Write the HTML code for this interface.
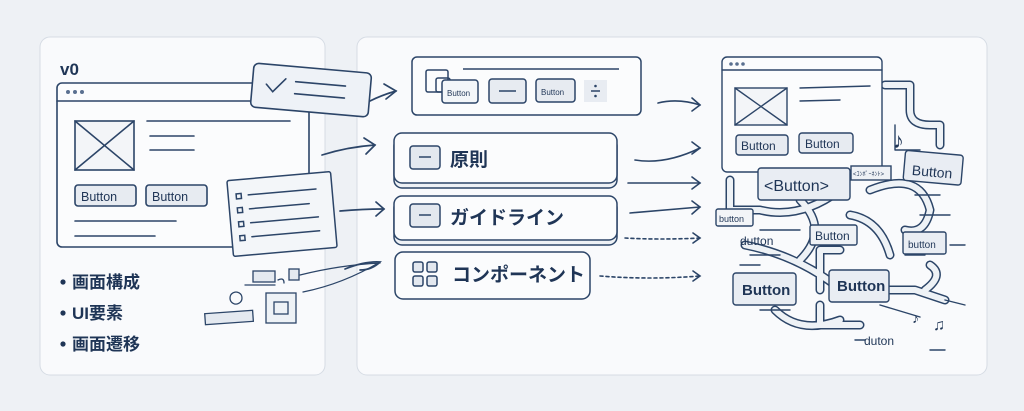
<!DOCTYPE html>
<html><head><meta charset="utf-8"><style>
html,body{margin:0;padding:0;background:#eef1f5;}
svg{display:block;}
text{font-family:"Liberation Sans","Noto Sans CJK JP",sans-serif;fill:#1f3556;}
</style></head><body>
<svg width="1024" height="411" viewBox="0 0 1024 411" xmlns="http://www.w3.org/2000/svg">
<rect width="1024" height="411" fill="#eef1f5"/>
<rect x="40" y="37" width="285" height="338" rx="10" fill="#f9fafc" stroke="#d6dce4"/>
<rect x="357" y="37" width="630" height="338" rx="10" fill="#f9fafc" stroke="#d6dce4"/>
<g fill="none" stroke="#2c4568" stroke-width="1.6" stroke-linecap="round">
<rect x="57" y="83" width="252" height="164" rx="5" fill="#fbfcfd"/>
<line x1="57" y1="101" x2="300" y2="101"/>
<rect x="75" y="121" width="59" height="49" fill="#f3f5f8"/>
<line x1="75" y1="121" x2="134" y2="170"/><line x1="134" y1="121" x2="75" y2="170"/>
<line x1="147" y1="121" x2="290" y2="121"/><line x1="150" y1="136" x2="194" y2="136"/><line x1="150" y1="150" x2="194" y2="150"/>
<rect x="75" y="185" width="61" height="21" rx="3" fill="#e7ebf1"/>
<rect x="146" y="185" width="61" height="21" rx="3" fill="#e7ebf1"/>
<line x1="75" y1="221" x2="176" y2="221"/><line x1="75" y1="236" x2="155" y2="236"/>
</g>
<g fill="#5a7090"><circle cx="68" cy="92" r="2"/><circle cx="75" cy="92" r="2"/><circle cx="82" cy="92" r="2"/></g>
<text x="60" y="75" font-size="17" font-weight="bold">v0</text>
<text x="81" y="201" font-size="12.5">Button</text>
<text x="152" y="201" font-size="12.5">Button</text>
<g transform="rotate(5 310 90)" stroke="#2c4568" stroke-width="1.6" fill="none" stroke-linecap="round">
<rect x="252" y="68" width="118" height="44" rx="5" fill="#eef2f7"/>
<path d="M266 88 l7 7 l12 -14"/>
<line x1="295" y1="83" x2="345" y2="83"/><line x1="295" y1="95" x2="345" y2="95"/>
</g>
<g transform="rotate(-5 282 214)" stroke="#2c4568" stroke-width="1.5" fill="none" stroke-linecap="round">
<rect x="230" y="176" width="104" height="76" rx="2" fill="#f3f6f9"/>
<rect x="238" y="190" width="5" height="5"/><line x1="250" y1="192" x2="318" y2="192"/>
<rect x="238" y="204" width="5" height="5"/><line x1="250" y1="206" x2="310" y2="206"/>
<rect x="238" y="218" width="5" height="5"/><line x1="250" y1="220" x2="318" y2="220"/>
<rect x="238" y="232" width="5" height="5"/><line x1="250" y1="234" x2="318" y2="234"/>
</g>
<g stroke="#2c4568" stroke-width="1.3" fill="#e4e9f0" stroke-linecap="round">
<rect x="253" y="271" width="22" height="11"/><rect x="289" y="269" width="10" height="11"/>
<rect x="266" y="293" width="30" height="30" fill="#eef2f6"/><rect x="274" y="302" width="14" height="12" fill="none"/>
<rect x="205" y="312" width="48" height="11" transform="rotate(-4 229 317)"/>
<path d="M245 285 h30 M278 280 q6 -3 6 3 M230 298 a6 6 0 1 1 0 0.1" fill="none"/>
<path d="M300 275 q40 -10 80 -12 M303 292 q40 -8 77 -30" fill="none"/>
</g>
<circle cx="63" cy="282" r="2.6" fill="#1f3556"/><text x="72" y="288" font-size="17" font-weight="bold">画面構成</text>
<circle cx="63" cy="313" r="2.6" fill="#1f3556"/><text x="72" y="319" font-size="17" font-weight="bold">UI要素</text>
<circle cx="63" cy="344" r="2.6" fill="#1f3556"/><text x="72" y="350" font-size="17" font-weight="bold">画面遷移</text>
<g stroke="#2c4568" stroke-width="1.7" fill="none" stroke-linecap="round">
<path d="M370 101 q12 -6 26 -10"/><path d="M384 84 l12 7 l-10 8"/>
<path d="M322 155 q25 -8 53 -10"/><path d="M364 138 l11 7 l-9 9"/>
<path d="M340 211 q25 -2 44 -2"/><path d="M376 202 l8 7 l-8 7"/>
<path d="M345 269 q20 -8 35 -7 q-8 8 -20 8"/>
</g>
<g stroke="#2c4568" stroke-width="1.5" fill="none">
<rect x="412" y="57" width="229" height="58" rx="5" fill="#fbfcfd"/>
<line x1="463" y1="69" x2="619" y2="69"/>
<rect x="426" y="70" width="22" height="22" rx="2"/><rect x="436" y="78" width="14" height="14" rx="2"/>
<rect x="442" y="80" width="36" height="23" rx="3" fill="#f3f6f9"/>
<rect x="489" y="79" width="37" height="24" rx="3" fill="#e7ebf1"/><line x1="499" y1="91" x2="516" y2="91"/>
<rect x="536" y="79" width="39" height="23" rx="3" fill="#e7ebf1"/>
<rect x="584" y="80" width="23" height="22" fill="#e8ecf2" stroke="none"/>
<line x1="591" y1="91" x2="600" y2="91"/>
<rect x="394" y="138" width="223" height="50" rx="8" fill="#eef1f5"/>
<rect x="394" y="133" width="223" height="50" rx="8" fill="#fbfcfd"/>
<rect x="410" y="146" width="30" height="23" rx="3" fill="#e3e8ef"/><line x1="419" y1="157" x2="431" y2="157"/>
<rect x="394" y="200" width="223" height="45" rx="8" fill="#eef1f5"/>
<rect x="394" y="196" width="223" height="44" rx="8" fill="#fbfcfd"/>
<rect x="410" y="204" width="30" height="23" rx="3" fill="#e3e8ef"/><line x1="419" y1="215" x2="431" y2="215"/>
<rect x="395" y="252" width="195" height="47" rx="8" fill="#fbfcfd"/>
<rect x="413" y="262" width="10" height="10" rx="2" fill="#e3e8ef"/><rect x="427" y="262" width="10" height="10" rx="2" fill="#e3e8ef"/>
<rect x="413" y="276" width="10" height="10" rx="2" fill="#e3e8ef"/><rect x="427" y="276" width="10" height="10" rx="2" fill="#e3e8ef"/>
</g>
<g fill="#2c4568"><circle cx="595.5" cy="86" r="1.3"/><circle cx="595.5" cy="96" r="1.3"/></g>
<text x="447" y="96" font-size="8">Button</text>
<text x="541" y="95" font-size="8">Button</text>
<text x="450" y="166" font-size="19" font-weight="bold">原則</text>
<text x="450" y="224" font-size="19" font-weight="bold">ガイドライン</text>
<text x="452" y="281" font-size="19" font-weight="bold">コンポーネント</text>
<g stroke="#2c4568" stroke-width="1.6" fill="none" stroke-linecap="round">
<path d="M658 103 q20 -5 42 2"/><path d="M692 98 l8 7 l-8 6"/>
<path d="M635 160 q30 5 65 -12"/><path d="M692 142 l8 6 l-8 6"/>
<path d="M628 183 h72"/><path d="M692 177 l8 6 l-8 6"/>
<path d="M630 213 l70 -6"/><path d="M692 201 l8 6 l-8 7"/>
<path d="M625 238 q35 2 75 0" stroke-dasharray="3 3"/><path d="M693 233 l7 5 l-7 5"/>
<path d="M600 276 q50 4 100 0" stroke-dasharray="3 3"/><path d="M693 271 l7 5 l-7 5"/>
</g>
<!-- right cluster pipes -->
<g fill="none" stroke-linecap="round" stroke-linejoin="round">
<g stroke="#2c4568" stroke-width="9">
<path d="M885 85 h25 v25 q0 15 20 15 h10 v20"/>
<path d="M870 190 q50 -20 60 20 q-5 25 -25 20"/>
<path d="M730 180 v30 h30 q40 10 80 -20"/>
<path d="M800 200 q30 30 0 60"/>
<path d="M745 245 q50 10 90 40"/>
<path d="M850 215 q30 5 40 40"/>
<path d="M840 250 h-20 v40"/>
<path d="M870 290 h45 l30 10"/>
<path d="M820 305 v20 h40"/>
<path d="M840 320 q-40 15 -65 -10"/>
<path d="M930 265 q15 10 -5 25"/>
</g>
<g stroke="#eef2f6" stroke-width="6">
<path d="M885 85 h25 v25 q0 15 20 15 h10 v20"/>
<path d="M870 190 q50 -20 60 20 q-5 25 -25 20"/>
<path d="M730 180 v30 h30 q40 10 80 -20"/>
<path d="M800 200 q30 30 0 60"/>
<path d="M745 245 q50 10 90 40"/>
<path d="M850 215 q30 5 40 40"/>
<path d="M840 250 h-20 v40"/>
<path d="M870 290 h45 l30 10"/>
<path d="M820 305 v20 h40"/>
<path d="M840 320 q-40 15 -65 -10"/>
<path d="M930 265 q15 10 -5 25"/>
</g>
<g stroke="#2c4568" stroke-width="1.4">
<path d="M895 125 v25 h25 M920 215 h30 M915 195 h25 M760 230 h40 M740 265 h20 M750 255 h30 M950 245 h15 M905 255 h20 M760 310 h30 M945 300 l20 5 M880 305 l40 12 M930 350 h15 M865 340 h-10"/>
</g>
</g>
<g stroke="#2c4568" stroke-width="1.4" fill="none" stroke-linecap="round">
<rect x="722" y="57" width="160" height="115" rx="5" fill="#fbfcfd"/>
<line x1="722" y1="70" x2="882" y2="70"/>
<rect x="735" y="88" width="52" height="37" fill="#f3f5f8"/><line x1="735" y1="88" x2="787" y2="125"/><line x1="787" y1="88" x2="735" y2="125"/>
<line x1="800" y1="88" x2="870" y2="86"/><line x1="800" y1="101" x2="840" y2="100"/>
<rect x="736" y="135" width="52" height="20" rx="3" fill="#e7ebf1"/>
<rect x="799" y="133" width="54" height="20" rx="3" fill="#e7ebf1"/>
<rect x="758" y="168" width="92" height="32" rx="3" fill="#e9edf3"/>
<rect x="851" y="166" width="40" height="14" fill="#eef1f5"/>
<rect x="716" y="209" width="37" height="17" rx="2" fill="#f3f5f8"/>
<rect x="810" y="225" width="47" height="20" rx="2" fill="#eef1f5"/>
<g transform="rotate(5 924 170)"><rect x="904" y="152" width="58" height="30" rx="3" fill="#e9edf3"/></g>
<rect x="903" y="232" width="43" height="22" rx="2" fill="#e9edf3"/>
<rect x="733" y="273" width="63" height="32" rx="3" fill="#e9edf3"/>
<rect x="829" y="270" width="60" height="32" rx="3" fill="#e9edf3"/>
</g>
<g fill="#5a7090"><circle cx="731" cy="64" r="1.8"/><circle cx="737" cy="64" r="1.8"/><circle cx="743" cy="64" r="1.8"/></g>
<text x="741" y="150" font-size="12">Button</text>
<text x="805" y="148" font-size="12">Button</text>
<text x="764" y="191" font-size="16">&lt;Button&gt;</text>
<text x="853" y="176" font-size="6">&lt;ｺﾝﾎﾟｰﾈﾝﾄ&gt;</text>
<text x="719" y="222" font-size="9">button</text>
<text x="740" y="245" font-size="12">dutton</text>
<text x="815" y="240" font-size="12">Button</text>
<text x="912" y="176" font-size="14" transform="rotate(5 924 170)">Button</text>
<text x="908" y="248" font-size="10">button</text>
<text x="742" y="295" font-size="15" font-weight="bold">Button</text>
<text x="837" y="291" font-size="15" font-weight="bold">Button</text>
<text x="864" y="345" font-size="12">duton</text>
<text x="893" y="148" font-size="22" fill="#2c4568">♪</text>
<text x="912" y="323" font-size="14" fill="#2c4568">♪</text>
<text x="933" y="330" font-size="16" fill="#2c4568">♫</text>
</svg>
</body></html>
